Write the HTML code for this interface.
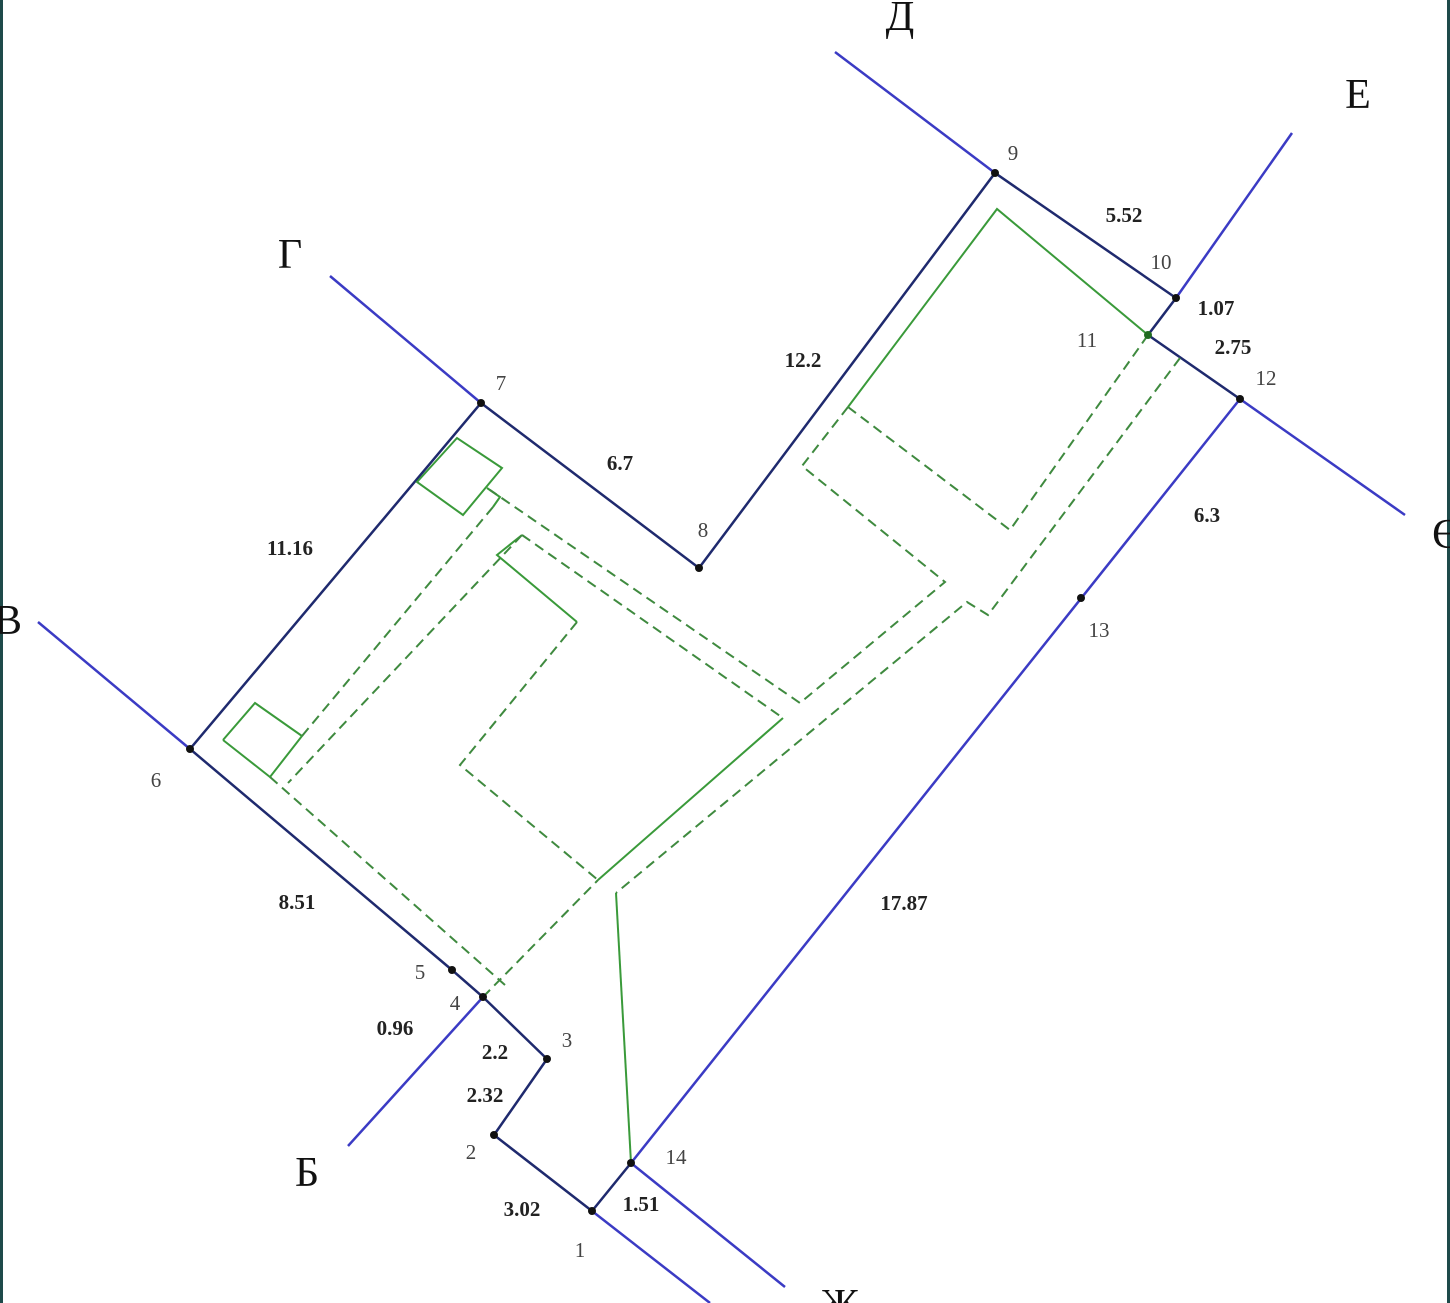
<!DOCTYPE html>
<html><head><meta charset="utf-8"><style>
html,body{margin:0;padding:0;background:#fff;}
svg{display:block;}
.d{font-family:"Liberation Serif",serif;font-weight:bold;font-size:21px;fill:#222;}
.n{font-family:"Liberation Serif",serif;font-size:21px;fill:#444;}
.L{font-family:"Liberation Serif","DejaVu Serif",serif;font-size:42px;fill:#111;}
</style></head><body>
<svg width="1450" height="1303" viewBox="0 0 1450 1303" xmlns="http://www.w3.org/2000/svg">
<rect width="1450" height="1303" fill="#fff"/>
<rect x="0" y="0" width="3" height="1303" fill="#1e4a4a"/>
<rect x="1447" y="0" width="3" height="1303" fill="#1e4a4a"/>
<!-- extension lines -->
<g stroke="#3b3bc4" stroke-width="2.5" fill="none">
<line x1="835" y1="52" x2="995" y2="173"/>
<line x1="1292" y1="133" x2="1176" y2="298"/>
<line x1="1240" y1="399" x2="1405" y2="515"/>
<line x1="330" y1="276" x2="481" y2="403"/>
<line x1="38" y1="622" x2="190" y2="749"/>
<line x1="348" y1="1146" x2="483" y2="997"/>
<line x1="592" y1="1211" x2="710" y2="1303"/>
<line x1="631" y1="1163" x2="785" y2="1287"/>
<line x1="1240" y1="399" x2="631" y2="1163"/>
</g>
<!-- boundary -->
<polyline points="631,1163 592,1211 494,1135 547,1059 483,997 452,970 190,749 481,403 699,568 995,173 1176,298 1148,335 1240,399" stroke="#1f2a6e" stroke-width="2.5" fill="none"/>
<!-- green solid -->
<g stroke="#3a9a3a" stroke-width="2" fill="none">
<polyline points="848,407 997,209 1148,335"/>
<polygon points="417,482 457,438 502,468 463,515"/>
<polyline points="223,740 255,703 302,736 270,777 223,740"/>
<polyline points="577,622 497,555 522,535"/>
<polyline points="783,718 598,880"/>
<polyline points="616,893 631,1163"/>
<polyline points="487,488 500,497 493,507"/>
</g>
<!-- green dashed -->
<g stroke="#3f8a3f" stroke-width="2" fill="none" stroke-dasharray="10,6">
<polyline points="848,407 1010,530 1148,335"/>
<polyline points="848,407 802,466 945,582 800,703 490,490"/>
<polyline points="522,535 783,718"/>
<polyline points="1180,358 988,615 967,602 616,893"/>
<polyline points="493,507 302,736"/>
<polyline points="522,535 288,783"/>
<polyline points="577,622 460,765 598,880"/>
<polyline points="270,777 505,985"/>
<polyline points="483,997 598,880"/>
</g>
<!-- points -->
<g fill="#111">
<circle cx="592" cy="1211" r="4"/><circle cx="494" cy="1135" r="4"/><circle cx="547" cy="1059" r="4"/>
<circle cx="483" cy="997" r="4"/><circle cx="452" cy="970" r="4"/><circle cx="190" cy="749" r="4"/>
<circle cx="481" cy="403" r="4"/><circle cx="699" cy="568" r="4"/><circle cx="995" cy="173" r="4"/>
<circle cx="1176" cy="298" r="4"/><circle cx="1148" cy="335" r="4" fill="#1f6a1f"/><circle cx="1240" cy="399" r="4"/>
<circle cx="1081" cy="598" r="4"/><circle cx="631" cy="1163" r="4"/>
</g>
<!-- dims -->
<g class="d" text-anchor="middle">
<text x="620" y="470">6.7</text><text x="803" y="367">12.2</text><text x="1124" y="222">5.52</text>
<text x="1216" y="315">1.07</text><text x="1233" y="354">2.75</text><text x="1207" y="522">6.3</text>
<text x="290" y="555">11.16</text><text x="297" y="909">8.51</text><text x="395" y="1035">0.96</text>
<text x="495" y="1059">2.2</text><text x="485" y="1102">2.32</text><text x="522" y="1216">3.02</text>
<text x="641" y="1211">1.51</text><text x="904" y="910">17.87</text>
</g>
<g class="n" text-anchor="middle">
<text x="580" y="1257">1</text><text x="471" y="1159">2</text><text x="567" y="1047">3</text>
<text x="455" y="1010">4</text><text x="420" y="979">5</text><text x="156" y="787">6</text>
<text x="501" y="390">7</text><text x="703" y="537">8</text><text x="1013" y="160">9</text>
<text x="1161" y="269">10</text><text x="1087" y="347">11</text><text x="1266" y="385">12</text>
<text x="1099" y="637">13</text><text x="676" y="1164">14</text>
</g>
<g class="L" text-anchor="middle">
<text x="900" y="30">Д</text><text x="1358" y="108">Е</text><text x="1446" y="548">Є</text>
<text x="290" y="268">Г</text><text x="8" y="634">В</text><text x="307" y="1186">Б</text>
<text x="840" y="1318">Ж</text>
</g>
</svg>
</body></html>
